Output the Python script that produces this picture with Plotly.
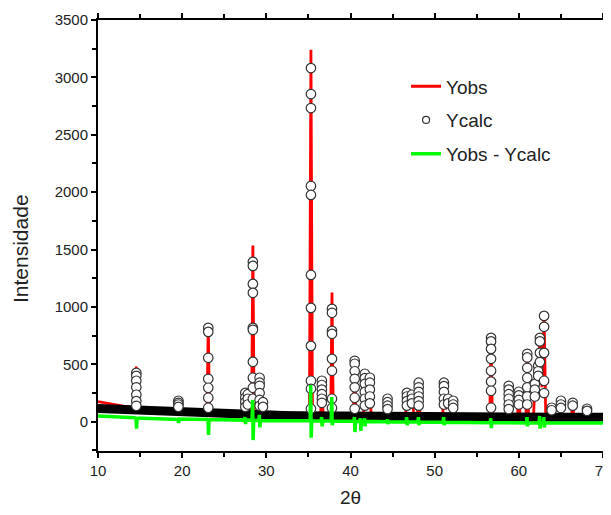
import plotly.graph_objects as go

# ---------------- data ----------------
# Yobs (observed pattern): background + peak apices
obs_x = [10, 11, 12, 13, 14, 14.4, 14.55, 14.7, 16, 18, 19.4, 19.55, 19.7, 21,
         22.95, 23.1, 23.25, 25, 27.35, 27.5, 27.65, 27.8, 27.95, 28.25, 28.4, 28.55,
         29.05, 29.2, 29.35, 29.5, 29.6, 29.7, 32, 35.12, 35.3, 35.48, 36.45, 36.6,
         36.75, 37.65, 37.8, 37.95, 40.35, 40.5, 40.65, 41.55, 41.7, 41.95, 42.3, 42.45,
         44.25, 44.4, 44.55, 46.55, 46.7, 46.95, 47.3, 47.5, 47.95, 48.1, 48.25,
         50.95, 51.1, 51.3, 51.6, 51.9, 52.2, 52.35, 56.55, 56.7, 56.85, 58.65, 58.8,
         58.95, 59.85, 60.0, 60.15, 60.85, 61.0, 61.15, 61.75, 61.9, 62.2, 62.5, 62.75,
         63.0, 63.2, 63.75, 63.9, 64.05, 64.85, 65.0, 65.15, 66.25, 66.4, 66.55,
         67.95, 68.1, 68.25, 70]
obs_y = [175, 160, 145, 135, 125, 120, 480, 118, 100, 90, 85, 185, 84, 80,
         76, 855, 75, 70, 66, 260, 150, 250, 130, 65, 1535, 64,
         62, 385, 120, 70, 160, 60, 56, 52, 3240, 52, 50, 365,
         50, 48, 1125, 48, 46, 560, 46, 46, 420, 150, 390, 45,
         44, 205, 44, 43, 290, 120, 240, 80, 43, 365, 43,
         42, 345, 110, 200, 90, 185, 42, 40, 770, 40, 40, 315,
         40, 40, 265, 40, 40, 600, 60, 45, 330, 200, 740, 300,
         930, 40, 38, 125, 38, 38, 185, 38, 38, 170, 38,
         38, 115, 38, 38]

# Ycalc: calculated background (dense band of circles)
calc_bg_x = [10, 12, 14, 16, 18, 20, 22, 24, 26, 28, 30, 32, 34, 36, 38, 40,
             45, 50, 55, 60, 65, 70]
calc_bg_y = [115, 108, 100, 93, 87, 82, 77, 72, 68, 63, 58, 55, 52, 50, 48, 46,
             44, 42, 40, 40, 38, 38]

# Ycalc: circles on the reflections (position, list of values)
calc_peak_pos = [14.55, 19.55, 23.1, 27.5, 27.8, 28.4, 29.2, 29.6, 35.3, 36.6,
                 37.8, 40.5, 41.7, 42.3, 44.4, 46.7, 47.3, 48.1, 51.1, 51.6, 52.2,
                 56.7, 58.8, 60.0, 61.0, 61.9, 62.3, 62.5, 63.0, 63.9, 65.0,
                 66.4, 68.1]
calc_peak_vals = [
    [426, 400, 357, 300, 235, 180, 139],
    [183, 165, 150, 130],
    [818, 783, 557, 374, 296, 209, 122],
    [252, 209, 170, 130],
    [240, 200, 150],
    [1393, 1358, 1201, 1123, 818, 801, 522, 383, 296, 200],
    [383, 340, 313, 250, 190, 139],
    [170, 130],
    [3081, 2855, 2733, 2054, 1976, 1279, 992, 661, 357, 287, 113],
    [357, 320, 280, 240, 200, 165],
    [983, 949, 792, 766, 548, 444, 200, 120],
    [531, 505, 440, 374, 300, 209, 113],
    [418, 380, 330, 260, 200, 140],
    [383, 340, 280, 220, 160],
    [200, 170, 140, 110],
    [252, 220, 180, 140],
    [235, 200, 160],
    [340, 300, 260, 220, 180, 140],
    [340, 310, 260, 200, 150],
    [200, 160],
    [183, 150, 120],
    [731, 700, 635, 548, 444, 350, 270, 122],
    [313, 280, 240, 200, 150, 110],
    [261, 230, 190, 150],
    [592, 560, 470, 383, 300, 220, 150],
    [330, 280, 220],
    [487, 440, 400],
    [731, 700, 600, 520],
    [922, 827, 600, 357, 250],
    [122, 100],
    [183, 150, 120],
    [165, 140],
    [113, 95],
]

# Yobs - Ycalc difference curve
diff_x = [10, 12, 14.45, 14.52, 14.58, 14.65, 19.45, 19.52, 19.58, 19.65,
          23.0, 23.07, 23.13, 23.2, 27.4, 27.47, 27.53, 27.6, 28.3, 28.37, 28.43, 28.5,
          29.1, 29.17, 29.23, 29.3, 35.2, 35.27, 35.33, 35.4, 36.5, 36.57, 36.63, 36.7,
          37.7, 37.77, 37.83, 37.9, 40.4, 40.47, 40.53, 40.6, 41.1, 41.17, 41.23, 41.3,
          41.6, 41.67, 41.73, 41.8, 44.3, 44.37, 44.43, 44.5, 46.6, 46.67, 46.73, 46.8,
          48.0, 48.07, 48.13, 48.2, 51.0, 51.07, 51.13, 51.2, 56.6, 56.67, 56.73, 56.8,
          60.9, 60.97, 61.03, 61.1, 62.4, 62.47, 62.53, 62.6, 62.9, 62.97, 63.03, 63.1,
          70]
diff_y = [50, 42, 34, 40, -60, 33, 24, 20, -10, 24,
          20, 30, -115, 20, 14, 40, -20, 14, 12, 190, -160, 12,
          11, 60, -50, 11, 8, 320, -140, 8, 7, 40, -40, 7,
          6, 215, -30, 6, 4, 40, -90, 4, 3, 30, -80, 3,
          3, 30, -40, 3, 0, 20, -20, 0, -2, 40, -30, -2,
          -3, 40, -30, -3, -5, 40, -30, -5, -8, 30, -55, -8,
          -10, 40, -40, -10, -10, 50, -60, -10, -10, 40, -50, -10,
          -12]

x_tickvals = [10, 20, 30, 40, 50, 60, 70]
y_tickvals = [0, 500, 1000, 1500, 2000, 2500, 3000, 3500]

# ---------------- figure ----------------
calc_x, calc_y = [], []
for p, vals in zip(calc_peak_pos, calc_peak_vals):
    for v in vals:
        calc_x.append(p)
        calc_y.append(v)

FONT = "Liberation Sans, Arial"

fig = go.Figure()
fig.add_trace(go.Scatter(x=obs_x, y=obs_y, mode="lines", name="Yobs",
                         line=dict(color="#ff0000", width=2.8), legendgroup="a"))
fig.add_trace(go.Scatter(x=calc_bg_x, y=calc_bg_y, mode="lines", showlegend=False,
                         line=dict(color="#000000", width=9), hoverinfo="skip"))
fig.add_trace(go.Scatter(x=calc_x, y=calc_y, mode="markers", showlegend=False,
                         marker=dict(symbol="circle", size=9.5, color="white",
                                     line=dict(color="#333333", width=1.2))))
fig.add_trace(go.Scatter(x=[None], y=[None], mode="markers", name="Ycalc",
                         legendgroup="b",
                         marker=dict(symbol="circle", size=7, color="white",
                                     line=dict(color="#333333", width=1.2))))
fig.add_trace(go.Scatter(x=diff_x, y=diff_y, mode="lines", name="Yobs - Ycalc",
                         line=dict(color="#00ff00", width=3.5), legendgroup="c"))

axis_common = dict(showline=True, linecolor="black", linewidth=2, mirror="ticks",
                   ticks="outside", ticklen=5, tickwidth=1.5, tickcolor="black",
                   showgrid=False, zeroline=False, automargin=False,
                   tickfont=dict(family=FONT, size=15, color="#222"))

fig.update_xaxes(range=[10, 70], tickvals=x_tickvals,
                 minor=dict(dtick=5, ticks="outside", ticklen=4, tickcolor="black"),
                 **axis_common)
fig.update_yaxes(range=[-255, 3500], tickvals=y_tickvals,
                 minor=dict(dtick=250, ticks="outside", ticklen=4, tickcolor="black"),
                 **axis_common)

# the page body adds an 8px offset, margins compensate for it
fig.update_layout(
    width=611, height=515,
    margin=dict(l=90, r=16, t=12, b=72, autoexpand=False),
    plot_bgcolor="white", paper_bgcolor="white",
    legend=dict(x=0.61, y=0.89, xanchor="left", yanchor="top",
                bgcolor="rgba(0,0,0,0)", tracegroupgap=6,
                font=dict(family=FONT, size=19, color="#222")),
    annotations=[
        dict(text="Intensidade", xref="paper", yref="paper",
             x=(20 - 98) / 505, y=(451 - 249) / 431, xanchor="center", yanchor="middle",
             textangle=-90, showarrow=False, font=dict(family=FONT, size=21, color="#222")),
        dict(text="2θ", xref="paper", yref="paper",
             x=0.5, y=(451 - 497) / 431, xanchor="center", yanchor="middle",
             showarrow=False, font=dict(family=FONT, size=19, color="#222")),
    ],
)

fig.write_html("out.html")
